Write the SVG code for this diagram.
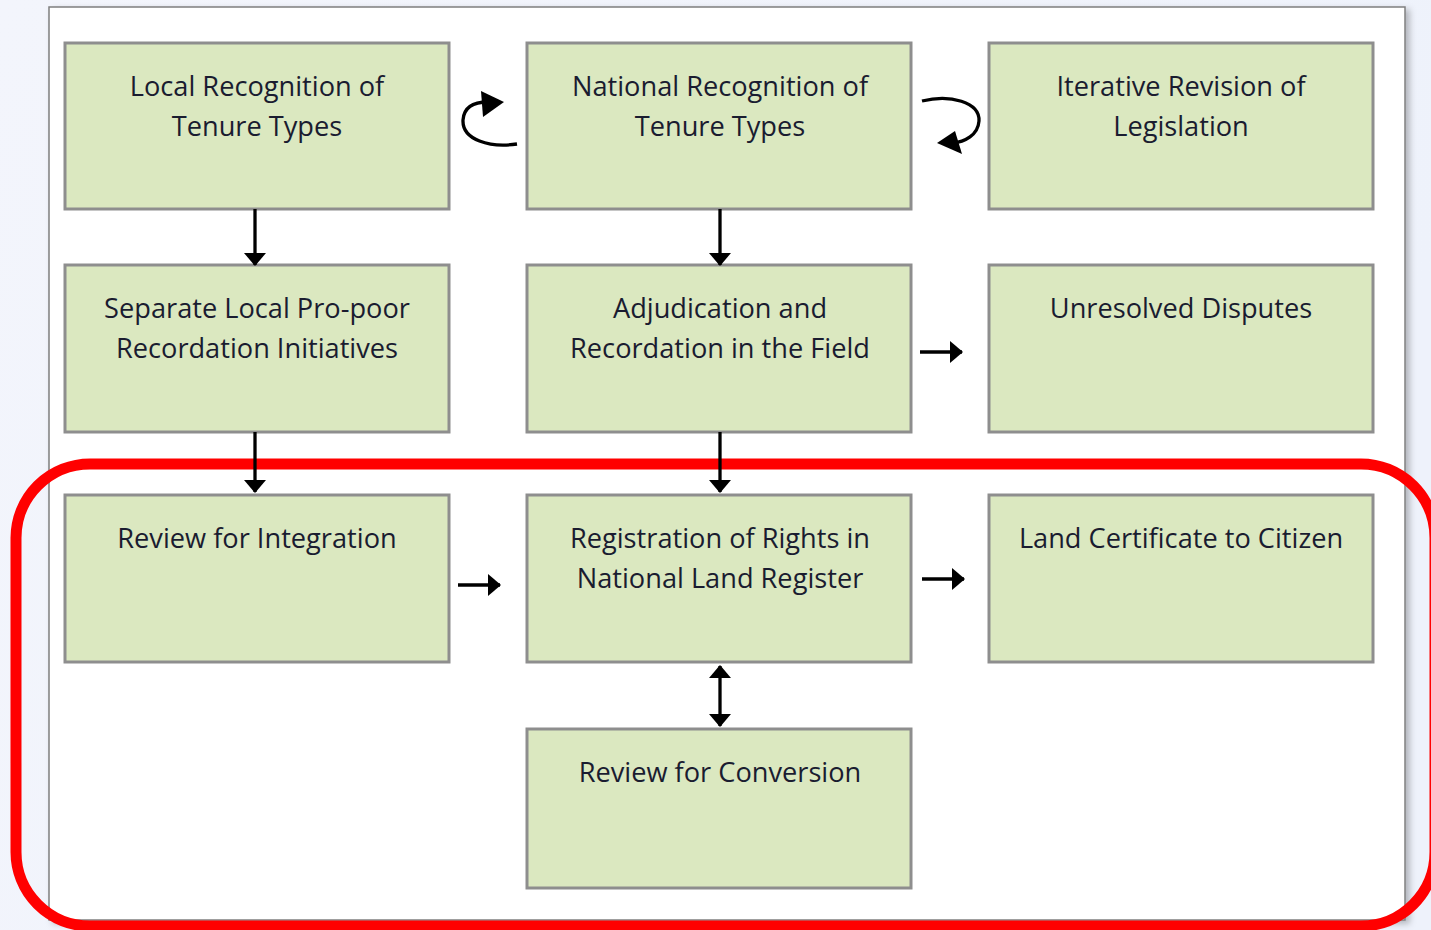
<svg xmlns="http://www.w3.org/2000/svg" width="1431" height="930" viewBox="0 0 1431 930">
<defs>
<style>
.box{fill:#dbe8c0;stroke:#8e8e8e;stroke-width:3}
.t{font-family:"Open Sans","Noto Sans","DejaVu Sans",sans-serif;font-size:27.2px;font-weight:500;fill:#1a1c30;text-anchor:middle}
.c{stroke:#000;stroke-width:3.3;fill:none}
</style>
<marker id="ah" viewBox="0 0 13 22" refX="12" refY="11" markerWidth="13" markerHeight="22" orient="auto-start-reverse" markerUnits="userSpaceOnUse">
<path d="M0,0 L13,11 L0,22 z" fill="#000"/>
</marker>
<linearGradient id="bg" x1="0" y1="0" x2="1" y2="0.3">
<stop offset="0" stop-color="#f3f5fc"/><stop offset="1" stop-color="#eef2fb"/>
</linearGradient>
<filter id="sh" x="-5%" y="-5%" width="110%" height="110%">
<feDropShadow dx="4" dy="3" stdDeviation="3" flood-color="#000" flood-opacity="0.25"/>
</filter>
</defs>
<rect x="0" y="0" width="1431" height="930" fill="url(#bg)"/>
<rect x="49" y="7" width="1356" height="913" fill="#fff" stroke="#7f7f7f" stroke-width="1.5" filter="url(#sh)"/>
<rect x="16" y="464" width="1419" height="462" rx="74" ry="74" fill="none" stroke="#ff0000" stroke-width="11"/>

<g id="n1"><rect class="box" x="65" y="43" width="384" height="166"/><text class="t" x="257" y="96">Local Recognition of</text><text class="t" x="257" y="136">Tenure Types</text></g>
<g id="n2"><rect class="box" x="527" y="43" width="384" height="166"/><text class="t" x="720" y="96">National Recognition of</text><text class="t" x="720" y="136">Tenure Types</text></g>
<g id="n3"><rect class="box" x="989" y="43" width="384" height="166"/><text class="t" x="1181" y="96">Iterative Revision of</text><text class="t" x="1181" y="136">Legislation</text></g>
<g id="n4"><rect class="box" x="65" y="265" width="384" height="167"/><text class="t" x="257" y="318">Separate Local Pro-poor</text><text class="t" x="257" y="358">Recordation Initiatives</text></g>
<g id="n5"><rect class="box" x="527" y="265" width="384" height="167"/><text class="t" x="720" y="318">Adjudication and</text><text class="t" x="720" y="358">Recordation in the Field</text></g>
<g id="n6"><rect class="box" x="989" y="265" width="384" height="167"/><text class="t" x="1181" y="318">Unresolved Disputes</text></g>
<g id="n7"><rect class="box" x="65" y="495" width="384" height="167"/><text class="t" x="257" y="548">Review for Integration</text></g>
<g id="n8"><rect class="box" x="527" y="495" width="384" height="167"/><text class="t" x="720" y="548">Registration of Rights in</text><text class="t" x="720" y="588">National Land Register</text></g>
<g id="n9"><rect class="box" x="989" y="495" width="384" height="167"/><text class="t" x="1181" y="548">Land Certificate to Citizen</text></g>
<g id="n10"><rect class="box" x="527" y="729" width="384" height="159"/><text class="t" x="720" y="782">Review for Conversion</text></g>

<g id="connectors">
<line class="c" x1="255" y1="209" x2="255" y2="265" marker-end="url(#ah)"/>
<line class="c" x1="720" y1="209" x2="720" y2="265" marker-end="url(#ah)"/>
<line class="c" x1="255" y1="432" x2="255" y2="492" marker-end="url(#ah)"/>
<line class="c" x1="720" y1="432" x2="720" y2="492" marker-end="url(#ah)"/>
<line class="c" x1="920" y1="352" x2="962" y2="352" marker-end="url(#ah)"/>
<line class="c" x1="458" y1="585" x2="500" y2="585" marker-end="url(#ah)"/>
<line class="c" x1="922" y1="579" x2="964" y2="579" marker-end="url(#ah)"/>
<line class="c" x1="720" y1="666" x2="720" y2="726" marker-start="url(#ah)" marker-end="url(#ah)"/>
<path class="c" d="M517,144 C490,148 462,140 463,120 C464,106 475,102 488,102" stroke-width="4.5"/>
<path d="M504,102 L481,91 L483,117 z" fill="#000"/>
<path class="c" d="M922,101 C950,94 980,102 979,121 C978,135 965,142 952,143" stroke-width="4.5"/>
<path d="M937,143 L955,131 L962,154 z" fill="#000"/>
</g>
</svg>
